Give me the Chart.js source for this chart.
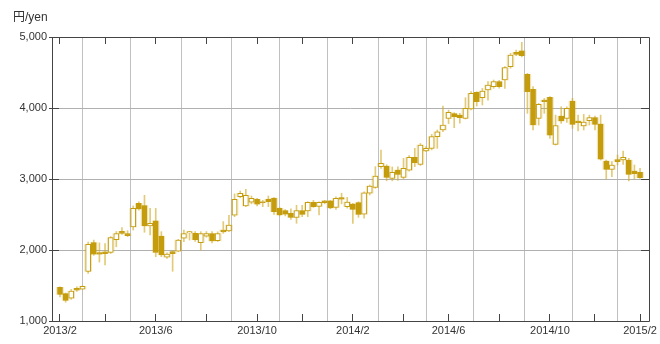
<!DOCTYPE html>
<html>
<head>
<meta charset="utf-8">
<script src="https://cdn.jsdelivr.net/npm/chart.js@4.4.1/dist/chart.umd.min.js"></script>
<style>
  body { margin: 0; background: #fff; }
  #wrap { position: relative; width: 660px; height: 344px; }
  #unit { position: absolute; left: 13px; top: 7px; font: 12px "Liberation Sans", "Noto Sans CJK JP", Arial, sans-serif; color: #333; }
</style>
</head>
<body>
<div id="wrap">
  <canvas id="chart" width="660" height="344"></canvas>
  <div id="unit">円/yen</div>
</div>
<script>
// weekly candles, index 0 = first week of 2013/2
const open = [1474,1385,1320,1460,1450,1700,2105,1962,1975,1967,
  2145,2263,2230,2325,2657,2627,2340,2410,2195,1900,
  1976,1985,2165,2240,2234,2103,2195,2230,2130,2282,
  2270,2490,2750,2620,2672,2715,2680,2715,2730,2587,
  2555,2516,2458,2554,2549,2672,2615,2692,2692,2598,
  2737,2612,2648,2667,2505,2800,2880,3174,3183,3009,
  3127,3023,3125,3305,3206,3394,3432,3596,3690,3854,
  3920,3901,3854,3986,4220,4145,4253,4300,4371,4394,
  4582,4784,4805,4474,4263,3854,4112,4150,3488,3887,
  3854,4098,3817,3746,3821,3864,3775,3253,3136,3272,
  3267,3267,3113,3094];
const high = [1480,1395,1445,1480,1495,2110,2140,2100,2090,2190,
  2260,2315,2272,2620,2680,2770,2587,2586,2258,1960,
  1990,2150,2282,2265,2260,2258,2260,2258,2255,2400,
  2490,2790,2830,2855,2760,2728,2700,2760,2740,2600,
  2570,2580,2630,2630,2680,2700,2680,2700,2700,2750,
  2800,2740,2657,2680,2820,2915,3174,3408,3200,3170,
  3170,3290,3330,3432,3500,3455,3628,3690,4028,3970,
  3934,3925,4145,4230,4230,4276,4371,4394,4390,4582,
  4770,4817,4925,4488,4300,4065,4135,4160,3900,4018,
  4018,4136,3900,3910,3900,3887,3900,3267,3244,3338,
  3394,3291,3197,3150];
const low = [1340,1265,1305,1415,1445,1670,1925,1830,1790,1950,
  2045,2220,2188,2282,2560,2250,2211,1906,1906,1880,
  1700,1975,2118,2140,2120,2000,2180,2100,2120,2235,
  2258,2470,2735,2610,2650,2620,2610,2610,2500,2480,
  2480,2430,2376,2470,2470,2600,2495,2650,2580,2570,
  2650,2590,2376,2460,2450,2775,2869,3150,2975,2975,
  2980,3000,3110,3174,3190,3385,3410,3432,3666,3780,
  3723,3785,3845,3972,4028,4042,4112,4277,4280,4277,
  4560,4737,4720,3925,3690,3760,3925,3573,3478,3784,
  3798,3713,3676,3690,3760,3690,3267,3000,3033,3197,
  3206,2972,3000,3009];
const close = [1375,1290,1420,1435,1488,2080,1940,1940,1950,2174,
  2230,2235,2202,2587,2577,2340,2376,1965,1932,1942,
  1950,2140,2230,2258,2145,2230,2232,2127,2232,2256,
  2352,2714,2798,2770,2728,2645,2668,2682,2540,2493,
  2503,2458,2554,2502,2670,2610,2670,2668,2592,2728,
  2715,2676,2573,2500,2805,2900,3042,3221,3023,3094,
  3063,3150,3305,3230,3479,3432,3596,3666,3760,3939,
  3878,3864,3995,4206,4089,4239,4324,4371,4300,4568,
  4746,4756,4737,4230,3760,4051,4089,3619,3751,3817,
  3995,3770,3793,3803,3864,3770,3281,3136,3197,3244,
  3305,3066,3075,3019];

// first week of every other month gets a grid line
const gridWeeks = [0, 8, 17, 26, 35, 43, 52, 61, 69, 78, 87, 95, 103];
const gridLabels = ['2013/2', '', '2013/6', '', '2013/10', '', '2014/2', '', '2014/6', '', '2014/10', '', '2015/2'];
const yTicks = [1000, 2000, 3000, 4000, 5000];

const gold = 'rgb(196,156,12)';
const haloColor = 'rgba(206,170,40,0.28)';
const wickColor = 'rgba(206,166,30,0.6)';
const font = {family: '"Liberation Sans", Arial, sans-serif', size: 11};

const weeks = open.map((_, i) => i);
const bodyData = weeks.map(i => ({x: i, y: [open[i], close[i]]}));
const wickData = weeks.map(i => ({x: i, y: [low[i], high[i]]}));
const bodyFill = weeks.map(i => close[i] < open[i] ? gold : '#fff');

// dark frame + short inner tick marks
const framePlugin = {
    id: 'frame',
    afterDatasetsDraw(chart) {
        const {ctx, chartArea: a, scales: {x, y}} = chart;
        const al = p => Math.round(p - 0.5) + 0.5;
        ctx.save();
        ctx.strokeStyle = '#444';
        ctx.lineWidth = 1;
        ctx.beginPath();
        ctx.rect(al(a.left), al(a.top), Math.round(a.right - a.left), Math.round(a.bottom - a.top));
        gridWeeks.forEach(w => {
            const px = al(x.getPixelForValue(w));
            ctx.moveTo(px, a.top); ctx.lineTo(px, a.top + 7);
            ctx.moveTo(px, a.bottom); ctx.lineTo(px, a.bottom - 7);
        });
        yTicks.forEach(v => {
            const py = al(y.getPixelForValue(v));
            ctx.moveTo(a.left - 3, py); ctx.lineTo(a.left + 7, py);
            ctx.moveTo(a.right, py); ctx.lineTo(a.right - 8, py);
        });
        ctx.stroke();
        ctx.restore();
    }
};

new Chart(document.getElementById('chart'), {
    type: 'bar',
    data: {
        datasets: [{
            label: 'body',
            data: bodyData,
            backgroundColor: bodyFill,
            borderColor: gold,
            borderWidth: 1,
            borderSkipped: false,
            barThickness: 5,
            grouped: false
        }, {
            label: 'halo',
            data: bodyData,
            backgroundColor: haloColor,
            borderWidth: 0,
            barThickness: 7,
            grouped: false
        }, {
            label: 'wick',
            data: wickData,
            backgroundColor: wickColor,
            borderWidth: 0,
            barThickness: 1,
            grouped: false
        }]
    },
    options: {
        responsive: false,
        devicePixelRatio: 1,
        animation: false,
        layout: {padding: {top: 37, right: 9, left: 0, bottom: 0}},
        plugins: {legend: {display: false}, tooltip: {enabled: false}},
        scales: {
            x: {
                type: 'linear',
                offset: false,
                min: -1.42,
                max: 104.6,
                afterFit: s => { s.height = 23; },
                afterBuildTicks: s => { s.ticks = gridWeeks.map(v => ({value: v})); },
                ticks: {
                    autoSkip: false,
                    maxRotation: 0,
                    padding: 3,
                    color: '#333',
                    font: font,
                    callback: v => gridLabels[gridWeeks.indexOf(v)]
                },
                grid: {color: '#c0c0c0', drawTicks: false},
                border: {display: false}
            },
            y: {
                min: 1000,
                max: 5000,
                afterFit: s => { s.width = 52; },
                afterBuildTicks: s => { s.ticks = yTicks.map(v => ({value: v})); },
                ticks: {
                    padding: 5,
                    color: '#333',
                    font: font,
                    callback: v => v.toLocaleString('en-US')
                },
                grid: {color: '#b0b0b0', drawTicks: false},
                border: {display: false}
            }
        }
    },
    plugins: [framePlugin]
});
</script>
</body>
</html>
